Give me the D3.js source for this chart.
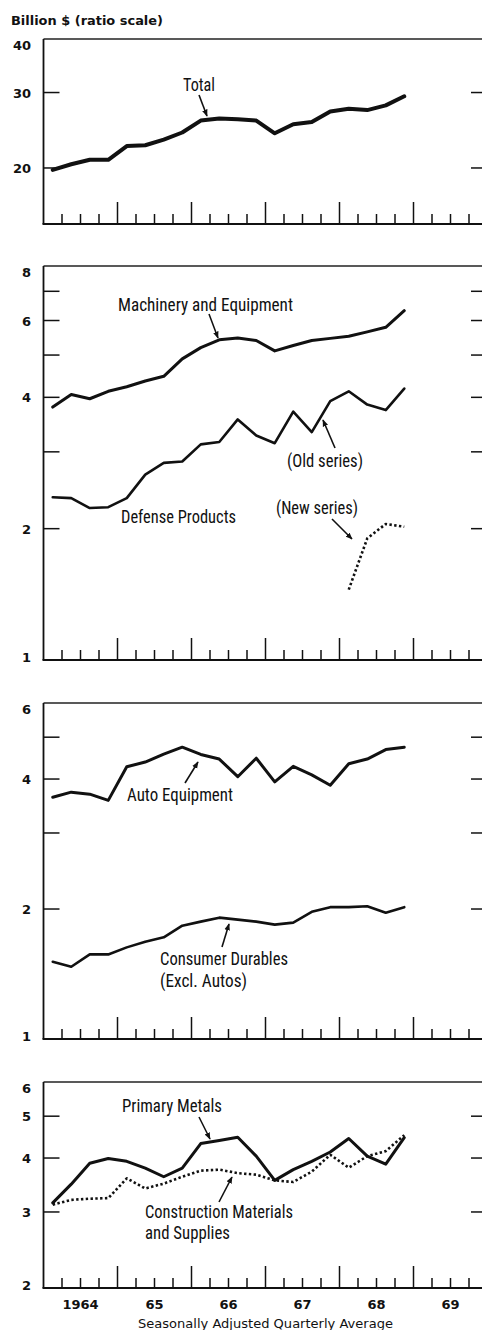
<!DOCTYPE html>
<html>
<head>
<meta charset="utf-8">
<script src="https://cdn.jsdelivr.net/npm/d3@7"></script>
<style>
  html, body { margin: 0; padding: 0; background: #fff; }
  svg { display: block; }
</style>
</head>
<body>
<div id="chart"></div>
<script>
// quarterly averages, 1964 Q1 .. 1968 Q4 (billion $, ratio scale)
var quarters = d3.range(20).map(function(i) { return 1964 + (i + 0.5) / 4; });

var totalValues = [19.8, 20.4, 20.9, 20.9, 22.5, 22.6, 23.3, 24.2, 25.8, 26.1,
                   26.0, 25.8, 24.1, 25.3, 25.6, 27.1, 27.5, 27.3, 28.0, 29.4];

var machineryValues = [3.80, 4.06, 3.97, 4.13, 4.23, 4.36, 4.47, 4.90, 5.20, 5.42,
                       5.47, 5.40, 5.11, 5.26, 5.40, 5.46, 5.52, 5.65, 5.79, 6.32];

var defenseOldValues = [2.36, 2.35, 2.23, 2.24, 2.35, 2.66, 2.83, 2.85, 3.12, 3.16,
                        3.56, 3.27, 3.14, 3.71, 3.33, 3.92, 4.13, 3.85, 3.74, 4.19];

var defenseNewValues = [null, null, null, null, null, null, null, null, null, null,
                        null, null, null, null, null, null, 1.45, 1.90, 2.05, 2.02];

var autoValues = [3.63, 3.73, 3.69, 3.57, 4.27, 4.38, 4.57, 4.74, 4.56, 4.45,
                  4.05, 4.47, 3.94, 4.28, 4.09, 3.87, 4.34, 4.45, 4.68, 4.74];

var consumerDurablesValues = [1.51, 1.47, 1.57, 1.57, 1.63, 1.68, 1.72, 1.83, 1.87, 1.91,
                              1.89, 1.87, 1.84, 1.86, 1.97, 2.02, 2.02, 2.03, 1.96, 2.02];

var primaryMetalsValues = [3.15, 3.48, 3.89, 3.99, 3.93, 3.79, 3.62, 3.79, 4.32, 4.39,
                           4.47, 4.04, 3.55, 3.76, 3.93, 4.13, 4.44, 4.04, 3.87, 4.46];

var constructionValues = [3.12, 3.20, 3.22, 3.23, 3.59, 3.40, 3.49, 3.62, 3.74, 3.76,
                          3.69, 3.66, 3.55, 3.52, 3.72, 4.07, 3.80, 4.04, 4.15, 4.52];

var yearLabels = ["1964", "65", "66", "67", "68", "69"];

var width = 482, height = 1330;

var svg = d3.select("#chart").append("svg")
  .attr("width", width)
  .attr("height", height);

var defs = svg.append("defs");
defs.append("marker")
  .attr("id", "arrow")
  .attr("viewBox", "0 0 10 10")
  .attr("refX", 9).attr("refY", 5)
  .attr("markerWidth", 7).attr("markerHeight", 7)
  .attr("markerUnits", "userSpaceOnUse")
  .attr("orient", "auto")
  .append("path")
  .attr("d", "M0,1 L10,5 L0,9 Z")
  .attr("fill", "#111");

var left = 43.5, right = 487;
var x = d3.scaleLinear().domain([1964, 1970]).range([left, right + 0.5]);

var labelFont = "'Liberation Sans Narrow', 'Arial Narrow', 'Roboto Condensed', 'Liberation Sans', sans-serif";
var axisFont = "'DejaVu Sans', sans-serif";

svg.append("text")
  .attr("x", 11).attr("y", 25)
  .attr("font-family", axisFont)
  .attr("font-weight", "bold")
  .attr("font-size", 13)
  .attr("textLength", 152)
  .attr("lengthAdjust", "spacingAndGlyphs")
  .attr("fill", "#111")
  .text("Billion $ (ratio scale)");

var panels = [
  { top: 39, bottom: 224, domain: [14.8, 40], ticks: [20, 30], labels: [40, 30, 20],
    series: [{ values: totalValues, width: 4 }] },
  { top: 266, bottom: 660, domain: [1, 8], ticks: [2, 3, 4, 5, 6, 7], labels: [8, 6, 4, 2, 1],
    series: [{ values: machineryValues, width: 3 },
             { values: defenseOldValues, width: 2.6 },
             { values: defenseNewValues, width: 2.6, dotted: true }] },
  { top: 703, bottom: 1039, domain: [1, 6], ticks: [2, 3, 4, 5], labels: [6, 4, 2, 1],
    series: [{ values: autoValues, width: 3 },
             { values: consumerDurablesValues, width: 2.6 }] },
  { top: 1082, bottom: 1288, domain: [2, 6], ticks: [3, 4, 5], labels: [6, 5, 4, 3, 2],
    series: [{ values: primaryMetalsValues, width: 3 },
             { values: constructionValues, width: 2.6, dotted: true }] }
];

panels.forEach(function(p) {
  var y = d3.scaleLog().domain(p.domain).range([p.bottom, p.top]);
  p.y = y;
  var g = svg.append("g");

  // frame
  g.append("line")
    .attr("x1", left).attr("x2", right)
    .attr("y1", p.top).attr("y2", p.top)
    .attr("stroke", "#222").attr("stroke-width", 1.4);
  g.append("line")
    .attr("x1", left).attr("x2", left)
    .attr("y1", p.top).attr("y2", p.bottom)
    .attr("stroke", "#111").attr("stroke-width", 1.8);
  g.append("line")
    .attr("x1", right).attr("x2", right)
    .attr("y1", p.top).attr("y2", p.bottom)
    .attr("stroke", "#111").attr("stroke-width", 1.8);
  g.append("line")
    .attr("x1", left - 1).attr("x2", right)
    .attr("y1", p.bottom).attr("y2", p.bottom)
    .attr("stroke", "#111").attr("stroke-width", 2);

  // value ticks, both sides
  g.selectAll(".ytick-l").data(p.ticks).enter().append("line")
    .attr("x1", left).attr("x2", left + 16)
    .attr("y1", function(d) { return y(d); }).attr("y2", function(d) { return y(d); })
    .attr("stroke", "#111").attr("stroke-width", 1.5);
  g.selectAll(".ytick-r").data(p.ticks).enter().append("line")
    .attr("x1", right - 16).attr("x2", right)
    .attr("y1", function(d) { return y(d); }).attr("y2", function(d) { return y(d); })
    .attr("stroke", "#111").attr("stroke-width", 1.5);

  g.selectAll(".ylabel").data(p.labels).enter().append("text")
    .attr("x", 31)
    .attr("y", function(d) {
      var yy = y(d) + 5;
      return Math.min(Math.max(yy, p.top + 10.5), p.bottom + 1.5);
    })
    .attr("text-anchor", "end")
    .attr("font-family", axisFont)
    .attr("font-weight", "bold")
    .attr("font-size", 13)
    .attr("fill", "#111")
    .text(function(d) { return d; });

  // time ticks: tall at years, short at quarters
  var tt = d3.range(1964.25, 1970, 0.25);
  g.selectAll(".xtick").data(tt).enter().append("line")
    .attr("x1", function(d) { return x(d); }).attr("x2", function(d) { return x(d); })
    .attr("y1", p.bottom)
    .attr("y2", function(d) { return p.bottom - (Math.abs(d - Math.round(d)) < 0.01 ? 22 : 10); })
    .attr("stroke", "#111").attr("stroke-width", 1.5);

  // series
  p.series.forEach(function(s) {
    var line = d3.line()
      .defined(function(d) { return d != null; })
      .x(function(d, i) { return x(quarters[i]); })
      .y(function(d) { return y(d); });
    g.append("path")
      .datum(s.values)
      .attr("d", line)
      .attr("fill", "none")
      .attr("stroke", "#111")
      .attr("stroke-width", s.width)
      .attr("stroke-linejoin", "round")
      .attr("stroke-linecap", s.dotted ? "butt" : "round")
      .attr("stroke-dasharray", s.dotted ? "2.4,2.4" : null);
  });
});

// annotations
var notes = [
  { text: "Total", x: 183, y: 91, len: 32 },
  { text: "Machinery and Equipment", x: 118, y: 311, len: 175 },
  { text: "(Old series)", x: 287, y: 467, len: 76 },
  { text: "Defense Products", x: 121, y: 523, len: 115 },
  { text: "(New series)", x: 276, y: 514, len: 82 },
  { text: "Auto Equipment", x: 127, y: 801, len: 106 },
  { text: "Consumer Durables", x: 160, y: 965, len: 128 },
  { text: "(Excl. Autos)", x: 160, y: 987, len: 87 },
  { text: "Primary Metals", x: 122, y: 1112, len: 100 },
  { text: "Construction Materials", x: 145, y: 1218, len: 148 },
  { text: "and Supplies", x: 145, y: 1239, len: 85 }
];

svg.selectAll(".note").data(notes).enter().append("text")
  .attr("x", function(d) { return d.x; })
  .attr("y", function(d) { return d.y; })
  .attr("font-family", labelFont)
  .attr("font-size", 19)
  .attr("textLength", function(d) { return d.len; })
  .attr("lengthAdjust", "spacingAndGlyphs")
  .attr("fill", "#111")
  .text(function(d) { return d.text; });

var arrows = [
  [199, 95, 207, 116],
  [209, 314, 218, 338],
  [335, 448, 323, 420],
  [332, 519, 352, 539],
  [185, 783, 198, 762],
  [222, 947, 229, 924],
  [199, 1117, 210, 1139],
  [219, 1202, 232, 1177]
];

svg.selectAll(".arrow").data(arrows).enter().append("line")
  .attr("x1", function(d) { return d[0]; })
  .attr("y1", function(d) { return d[1]; })
  .attr("x2", function(d) { return d[2]; })
  .attr("y2", function(d) { return d[3]; })
  .attr("stroke", "#111")
  .attr("stroke-width", 1.6)
  .attr("marker-end", "url(#arrow)");

// year labels under the last panel
svg.selectAll(".year").data(yearLabels).enter().append("text")
  .attr("x", function(d, i) { return x(1964.5 + i); })
  .attr("y", 1309)
  .attr("text-anchor", "middle")
  .attr("font-family", axisFont)
  .attr("font-weight", "bold")
  .attr("font-size", 13)
  .attr("fill", "#111")
  .text(function(d) { return d; });

svg.append("text")
  .attr("x", 138).attr("y", 1328)
  .attr("font-family", axisFont)
  .attr("font-size", 11.5)
  .attr("textLength", 255)
  .attr("lengthAdjust", "spacingAndGlyphs")
  .attr("fill", "#111")
  .text("Seasonally Adjusted Quarterly Average");
</script>
</body>
</html>
